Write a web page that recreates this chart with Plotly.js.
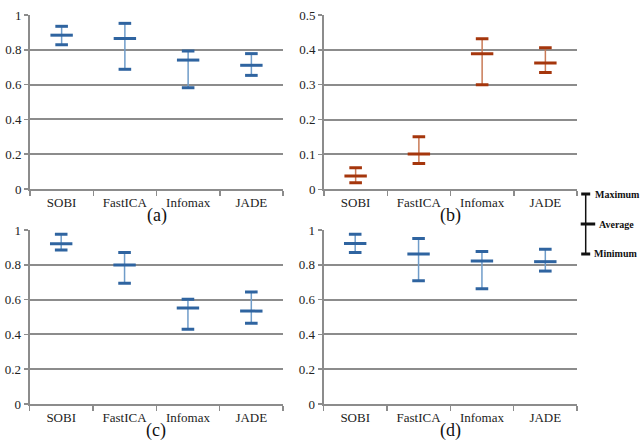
<!DOCTYPE html>
<html><head><meta charset="utf-8">
<script src="https://cdn.plot.ly/plotly-3.0.1.min.js"></script>
<style>html,body{margin:0;padding:0;background:#fff;}#chart{width:641px;height:442px;}</style>
</head><body><div id="chart"></div>
<script>
const categories = ['SOBI', 'FastICA', 'Infomax', 'JADE'];
const aMax = [0.935, 0.952, 0.793, 0.778];
const aAvg = [0.884, 0.865, 0.741, 0.711];
const aMin = [0.829, 0.688, 0.582, 0.653];
const bMax = [0.062, 0.151, 0.432, 0.406];
const bAvg = [0.038, 0.101, 0.389, 0.362];
const bMin = [0.019, 0.074, 0.300, 0.335];
const cMax = [0.975, 0.870, 0.602, 0.644];
const cAvg = [0.921, 0.799, 0.552, 0.534];
const cMin = [0.885, 0.694, 0.429, 0.464];
const dMax = [0.975, 0.951, 0.877, 0.889];
const dAvg = [0.923, 0.862, 0.822, 0.818];
const dMin = [0.870, 0.708, 0.663, 0.764];
const panelLabels = ['(a)', '(b)', '(c)', '(d)'];
const legendLabels = ['Maximum', 'Average', 'Minimum'];

const W = 641, H = 442;
const FAM = '"Liberation Serif", "Times New Roman", serif';
const blue = {cap: '#2f64a0', stem: '#6f9cc9'};
const red = {cap: '#a5360c', stem: '#c97a56'};

const panels = [
  {mx: aMax, av: aAvg, mn: aMin, col: blue, x: [30, 283], y: [15, 189], range: [0, 1], dtick: 0.2},
  {mx: bMax, av: bAvg, mn: bMin, col: red, x: [324, 577], y: [15, 189.3], range: [0, 0.5], dtick: 0.1},
  {mx: cMax, av: cAvg, mn: cMin, col: blue, x: [29.5, 283], y: [230, 404], range: [0, 1], dtick: 0.2},
  {mx: dMax, av: dAvg, mn: dMin, col: blue, x: [323.5, 577], y: [230, 404], range: [0, 1], dtick: 0.2}
];

const data = [];
const layout = {
  width: W, height: H, margin: {l: 0, r: 0, t: 0, b: 0},
  paper_bgcolor: '#fff', plot_bgcolor: '#fff', showlegend: false,
  font: {family: FAM, size: 12, color: '#222'},
  shapes: [], annotations: []
};

panels.forEach((p, i) => {
  const n = i + 1;
  const xa = 'x' + (n === 1 ? '' : n), ya = 'y' + (n === 1 ? '' : n);
  const errUp = p.mx.map((v, k) => v - p.av[k]);
  const errDn = p.av.map((v, k) => v - p.mn[k]);
  data.push({
    type: 'scatter', mode: 'markers', x: categories, y: p.av, xaxis: xa, yaxis: ya,
    marker: {size: 1, opacity: 0},
    error_y: {type: 'data', symmetric: false, array: errUp, arrayminus: errDn, width: 0, thickness: 1.5, color: p.col.stem},
    hoverinfo: 'skip'
  });
  data.push({
    type: 'scatter', mode: 'markers', x: categories.concat(categories), y: p.mx.concat(p.mn), xaxis: xa, yaxis: ya,
    marker: {symbol: 'line-ew', size: 9, color: p.col.cap, line: {color: p.col.cap, width: 3}}
  });
  data.push({
    type: 'scatter', mode: 'markers', x: categories, y: p.av, xaxis: xa, yaxis: ya,
    marker: {symbol: 'line-ew', size: 16, color: p.col.cap, line: {color: p.col.cap, width: 3}}
  });
  layout['xaxis' + (n === 1 ? '' : n)] = {
    domain: [p.x[0] / W, p.x[1] / W], anchor: ya, type: 'category', range: [-0.5, 3.5],
    showgrid: false, showline: true, linecolor: '#8c8c8c', linewidth: 2,
    ticks: 'outside', tickson: 'boundaries', ticklen: 5, tickcolor: '#8c8c8c', tickwidth: 1.5,
    tickfont: {family: FAM, size: 13, color: '#222'}, fixedrange: true
  };
  layout['yaxis' + (n === 1 ? '' : n)] = {
    domain: [1 - p.y[1] / H, 1 - p.y[0] / H], anchor: xa, range: p.range, dtick: p.dtick,
    showgrid: true, gridcolor: '#8c8c8c', gridwidth: 2, zeroline: false,
    showline: true, linecolor: '#8c8c8c', linewidth: 2,
    ticks: 'outside', ticklen: 4, tickcolor: '#8c8c8c', tickwidth: 1.5,
    showticklabels: true,
    tickfont: {family: FAM, size: 13, color: '#222'}, fixedrange: true
  };
  layout.annotations.push({
    text: panelLabels[i], xref: 'paper', yref: 'paper',
    x: ((p.x[0] + p.x[1]) / 2) / W, y: 1 - (p.y[1] + 26) / H,
    xanchor: 'center', yanchor: 'middle', showarrow: false,
    font: {family: FAM, size: 18, color: '#111'}
  });
});

// legend key (Maximum / Average / Minimum)
const lx = 585.7, ly = [194, 224, 254];
const px = v => v / W, py = v => 1 - v / H;
layout.shapes.push({type: 'line', xref: 'paper', yref: 'paper', x0: px(lx), x1: px(lx), y0: py(ly[0]), y1: py(ly[2]), line: {color: '#111', width: 1.5}});
layout.shapes.push({type: 'line', xref: 'paper', yref: 'paper', x0: px(lx - 4.5), x1: px(lx + 4.5), y0: py(ly[0]), y1: py(ly[0]), line: {color: '#111', width: 3}});
layout.shapes.push({type: 'line', xref: 'paper', yref: 'paper', x0: px(lx - 5), x1: px(lx + 9.5), y0: py(ly[1]), y1: py(ly[1]), line: {color: '#111', width: 3}});
layout.shapes.push({type: 'line', xref: 'paper', yref: 'paper', x0: px(lx - 4.5), x1: px(lx + 4.5), y0: py(ly[2]), y1: py(ly[2]), line: {color: '#111', width: 3}});
const lxText = [593, 596.5, 592];
legendLabels.forEach((t, k) => {
  layout.annotations.push({
    text: '<b>' + t + '</b>', xref: 'paper', yref: 'paper', x: px(lxText[k]), y: py(ly[k]),
    xanchor: 'left', yanchor: 'middle', showarrow: false, font: {family: FAM, size: 10, color: '#111'}
  });
});

Plotly.newPlot('chart', data, layout, {displayModeBar: false, staticPlot: true});
</script></body></html>
